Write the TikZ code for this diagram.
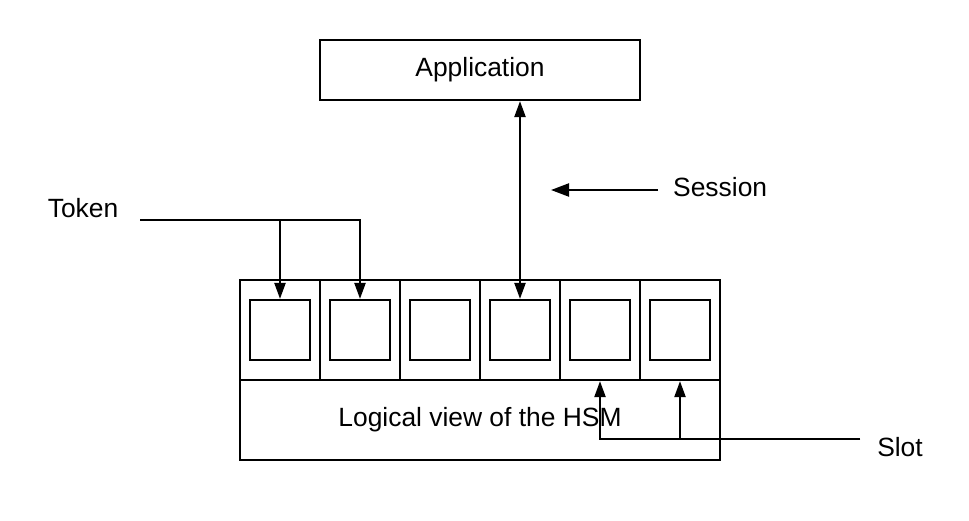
\documentclass[tikz,border=0pt]{standalone}
\usepackage{fontspec}
\setmainfont{Liberation Sans}
\usetikzlibrary{arrows.meta}
\begin{document}
\begin{tikzpicture}[x=1pt,y=-1pt,
  every node/.style={font=\fontsize{26.4}{31}\selectfont},
  box/.style={draw,line width=2.2pt,inner sep=0pt},
  lbl/.style={inner sep=0pt},
  conn/.style={line width=2.2pt},
  tip/.style={-{Triangle[length=16pt,width=11pt]}}]
\useasboundingbox[fill=white] (0,0) rectangle (969,520);
% application
\node[box,minimum width=320pt,minimum height=60pt] (app) at (480,70) {Application};
% HSM lower part
\node[box,minimum width=480pt,minimum height=80pt] (logic) at (480,420) {Logical view of the HSM};
% cells and slots
\foreach \i in {1,...,6}{
  \node[box,minimum width=80pt,minimum height=100pt] (cell\i) at ({200+80*\i},330) {};
  \node[box,minimum width=60pt,minimum height=60pt] (sq\i) at ({200+80*\i},330) {};
}
% token
\node[lbl] (token) at (83,208) {Token};
\coordinate (tokstart) at (140,220);
\draw[conn,tip] (tokstart) -| (sq1.north);
\draw[conn,tip] (tokstart) -| (sq2.north);
% session
\draw[conn,{Triangle[length=16pt,width=11pt]}-{Triangle[length=16pt,width=11pt]}] (app.south -| sq4.north) -- (sq4.north);
\node[lbl,anchor=west] (session) at (673,187) {Session};
\coordinate (sesstart) at (658,190);
\coordinate (sesend) at (551,190);
\draw[conn,-{Triangle[length=18pt,width=13pt]}] (sesstart) -- (sesend);
% slot
\node[lbl] (slot) at (900,447) {Slot};
\coordinate (slotstart) at (860,439);
\draw[conn,tip] (slotstart) -| (cell5.south);
\draw[conn,tip] (slotstart) -| (cell6.south);
\end{tikzpicture}
\end{document}
